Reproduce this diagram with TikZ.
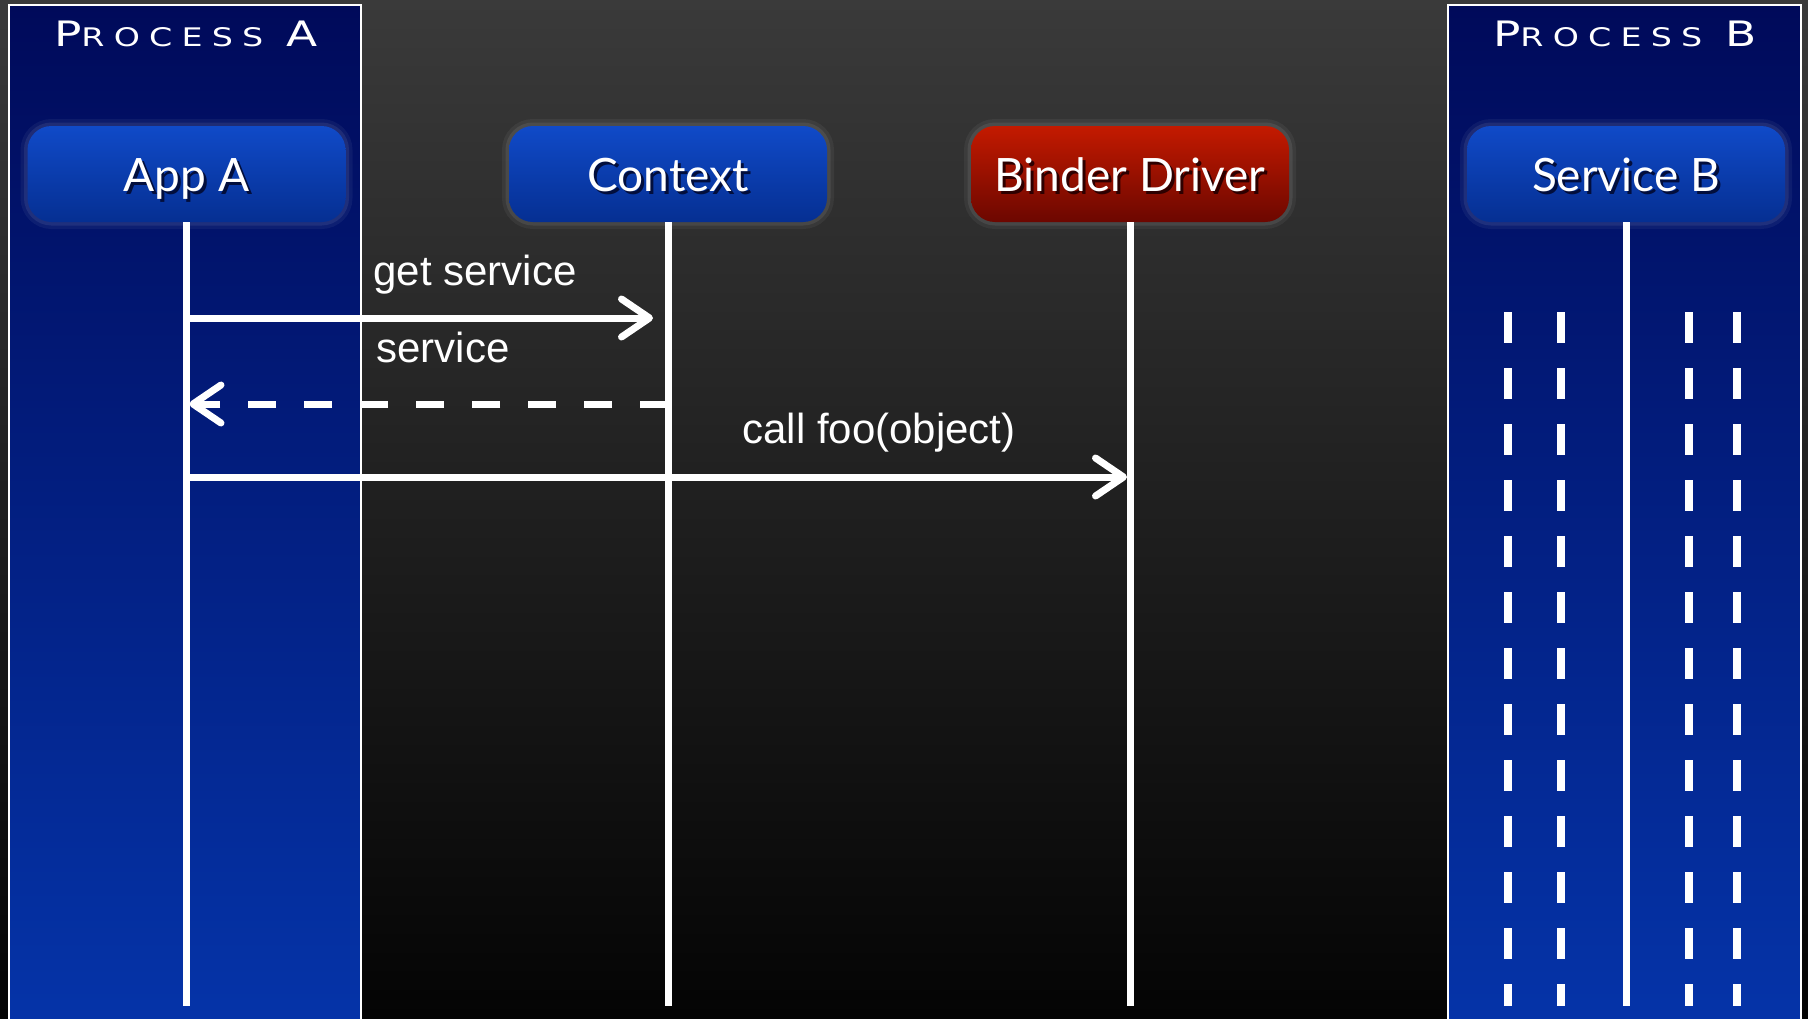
\documentclass[tikz,border=0pt]{standalone}
\usepackage{fontspec}
\setmainfont{Liberation Sans}
\newfontfamily\boxfont{Lato}
\newfontfamily\titlefont[FakeStretch=1.3,LetterSpace=36]{DejaVu Sans}
\usetikzlibrary{arrows.meta,positioning}
\definecolor{bgtop}      {HTML}{3A3A3A}
\definecolor{bgbottom}   {HTML}{040404}
\definecolor{paneltop}   {HTML}{000A5A}
\definecolor{panelmid}   {HTML}{021E82}
\definecolor{panelbottom}{HTML}{0534A9}
\definecolor{bluetop}    {HTML}{104AC8}
\definecolor{bluebottom} {HTML}{052F92}
\definecolor{redtop}     {HTML}{C41A00}
\definecolor{redbottom}  {HTML}{6C0700}
\definecolor{blueshade}  {HTML}{020E3C}
\definecolor{redshade}   {HTML}{2E0000}
% text with a dark cast under it
\newcommand\castshadow[2]{\rlap{\kern1.5pt\raisebox{-1.5pt}{\color{#1}#2}}#2}
% small caps look for the process titles
\newcommand\proctitle[3]{\titlefont{\fontsize{17.5}{17.5}\selectfont #1}{\fontsize{12.8}{12.8}\selectfont #2}\hspace{4pt} {\fontsize{17.5}{17.5}\selectfont #3}}
\tikzset{
actor/.style={rounded corners=12pt, minimum width=159pt, minimum height=48pt, text height=17.5pt, text depth=0pt,
  font=\boxfont\fontsize{23}{23}\selectfont, text=white,
  preaction={draw=white, draw opacity=.05, line width=7pt},
  preaction={draw=white, draw opacity=.08, line width=3.5pt}},
blueactor/.style={actor, top color=bluetop, bottom color=bluebottom},
redactor/.style={actor, top color=redtop, bottom color=redbottom},
lifeline/.style={draw=white, line width=3.5pt},
msg/.style={draw=white, line width=3.5pt, -{Straight Barb[length=14pt,width=19pt,line cap=round,line join=round]}},
reply/.style={msg, dash pattern=on 14pt off 14pt},
msglabel/.style={text=white, font=\fontsize{21}{21}\selectfont, anchor=base west, inner sep=0pt},
proclabel/.style={text=white, anchor=base, inner sep=0pt},
panel/.style={top color=paneltop, middle color=panelmid, bottom color=panelbottom, draw=white!85, line width=0.8pt},
thread/.style={draw=white, line width=4pt, dash pattern=on 15.5pt off 12.5pt},
}
\begin{document}
\begin{tikzpicture}[x=0.5pt,y=-0.5pt]
\useasboundingbox (0,0) rectangle (1808,1018);
\shade[top color=bgtop, middle color=bgtop!45!bgbottom, bottom color=bgbottom] (0,0) rectangle (1808,1018);

% the two processes
\shade[panel] (9,5) rectangle (361,1030);
\shade[panel] (1448,5) rectangle (1801,1030);
\node[proclabel] (procA) at (186,46) {\proctitle{P}{ROCESS}{A}};
\node[proclabel] (procB) at (1625,46) {\proctitle{P}{ROCESS}{B}};

% threads of process B
\foreach \x in {1508,1561,1689,1737}
  \draw[thread] (\x,312) -- (\x,1006);

% actors
\node[blueactor] (appA)    at (186.5,174) {\castshadow{blueshade}{App A}};
\node[blueactor] (context) at (668,174)   {\castshadow{blueshade}{Context}};
\node[redactor]  (binder)  at (1130,174)  {\castshadow{redshade}{Binder Driver}};
\node[blueactor] (serviceB) at (1626,174) {\castshadow{blueshade}{Service B}};

% lifelines
\coordinate (bottom) at (0,1006);
\foreach \n in {appA,context,binder,serviceB}
  \draw[lifeline] (\n.south) -- (\n.south |- bottom);

% messages
\coordinate (row1) at (0,318);
\coordinate (row2) at (0,404);
\coordinate (row3) at (0,477);
\draw[msg] (appA.south |- row1) -- ([xshift=-7.5pt]context.south |- row1);
\draw[reply] (context.south |- row2) -- ([xshift=1.5pt]appA.south |- row2);
\draw[msg] (appA.south |- row3) -- ([xshift=-1.5pt]binder.south |- row3);
\node[msglabel] (getlbl)  at (373,285) {get service};
\node[msglabel] (servlbl) at (376,362) {service};
\node[msglabel] (calllbl) at (742,443) {call foo(object)};
\end{tikzpicture}
\end{document}
